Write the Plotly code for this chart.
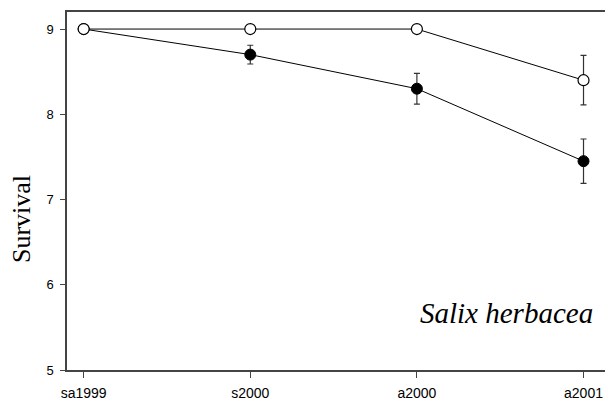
import plotly.graph_objects as go

categories = ["sa1999", "s2000", "a2000", "a2001"]
filled_vals = [9.0, 8.70, 8.30, 7.45]
filled_err = [0.0, 0.11, 0.18, 0.26]
open_vals = [9.0, 9.0, 9.0, 8.40]
open_err = [0.0, 0.0, 0.0, 0.29]
y_ticks = [5, 6, 7, 8, 9]

xpos = list(range(len(categories)))

fig = go.Figure()
fig.add_trace(go.Scatter(
    x=xpos, y=filled_vals, mode="lines+markers",
    line=dict(color="black", width=1),
    marker=dict(size=11, color="black", line=dict(color="black", width=1)),
    error_y=dict(type="data", array=filled_err, visible=True, color="#333333", thickness=1.2, width=3),
    showlegend=False,
))
fig.add_trace(go.Scatter(
    x=xpos, y=open_vals, mode="lines+markers",
    line=dict(color="black", width=1),
    marker=dict(size=11, color="white", line=dict(color="black", width=1.2)),
    error_y=dict(type="data", array=open_err, visible=True, color="#333333", thickness=1.2, width=3),
    showlegend=False,
))

fig.add_annotation(
    text="<i>Salix herbacea</i>", x=2.54, y=5.67, xref="x", yref="y",
    showarrow=False, font=dict(family="Liberation Serif, Times New Roman, serif", size=29, color="black"),
    xanchor="center", yanchor="middle",
)
fig.add_annotation(
    text="Survival", x=-0.081, y=0.422, xref="paper", yref="paper",
    showarrow=False, textangle=-90,
    font=dict(family="Liberation Serif, Times New Roman, serif", size=26, color="black"),
    xanchor="center", yanchor="middle",
)

fig.update_layout(
    width=613, height=401,
    margin=dict(l=59, r=0, t=4, b=39),
    plot_bgcolor="white", paper_bgcolor="white",
    font=dict(family="Liberation Sans, Arial, sans-serif", size=13, color="black"),
    xaxis=dict(
        range=[-0.1, 3.225], tickvals=xpos, ticktext=categories,
        showgrid=False, zeroline=False, showline=True, linecolor="#444444", linewidth=1.5,
        mirror=True, ticks="outside", ticklen=6, tickcolor="#444444", tickwidth=1,
        tickfont=dict(size=14), ticklabelstandoff=3,
    ),
    yaxis=dict(
        range=[5, 9.2], tickvals=y_ticks,
        showgrid=False, zeroline=False, showline=True, linecolor="#444444", linewidth=1.5,
        ticks="outside", ticklen=5, tickcolor="#444444", tickwidth=1,
        tickfont=dict(size=13), ticklabelstandoff=4,
    ),
)

fig.write_html("out.html")
